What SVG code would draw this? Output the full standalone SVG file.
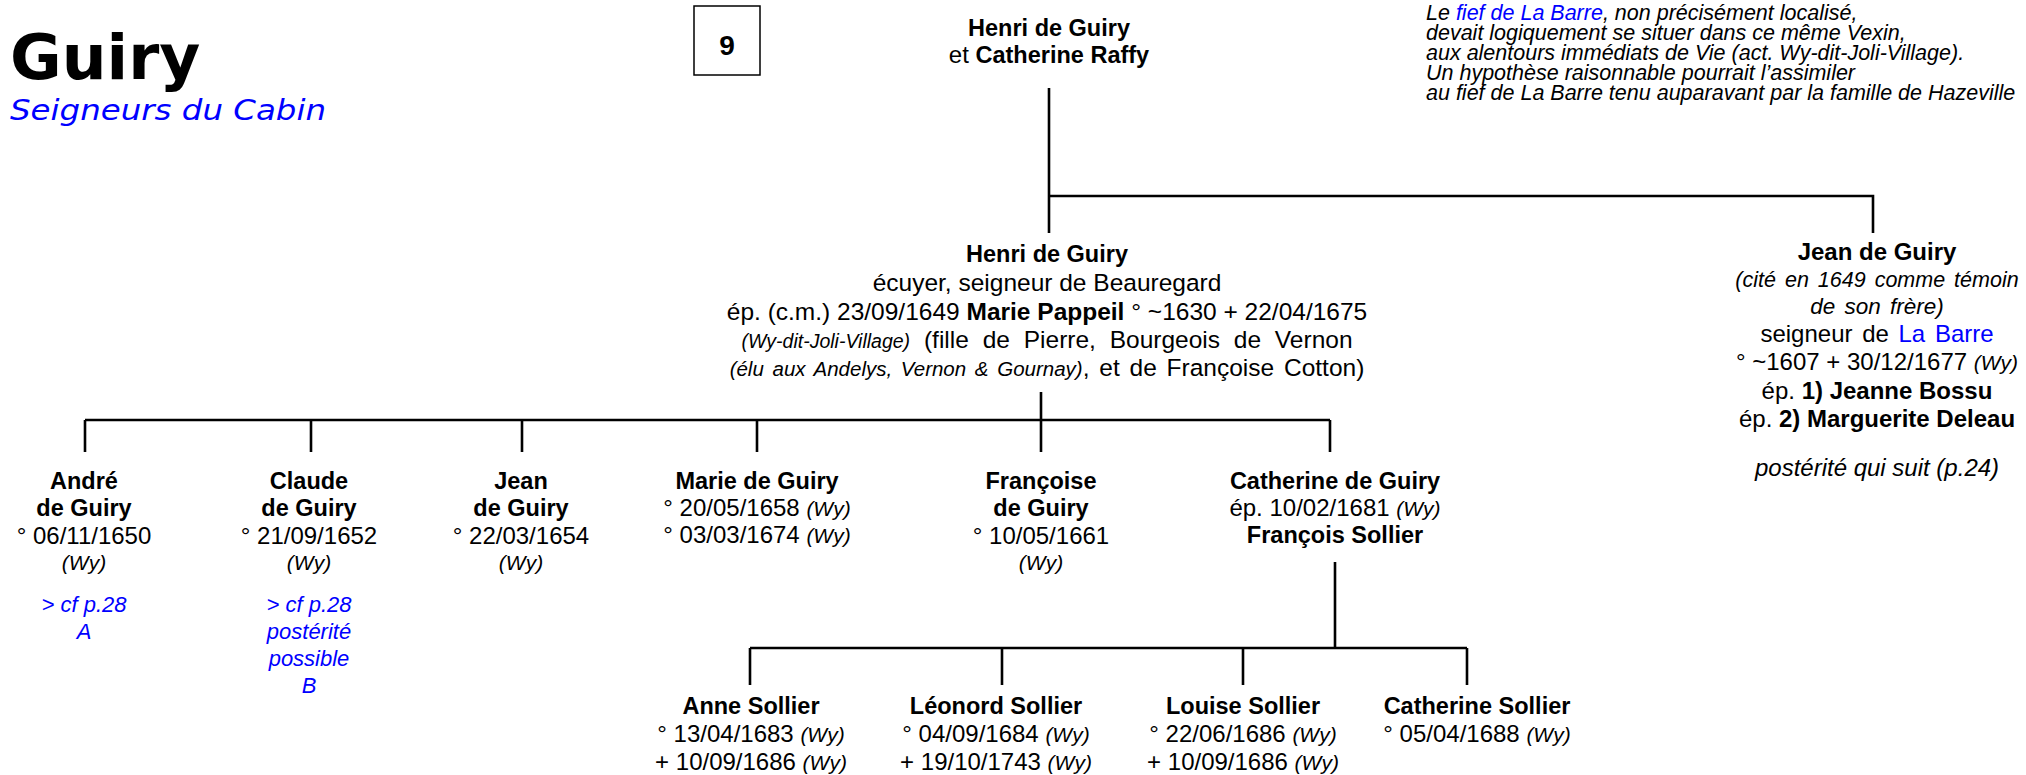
<svg xmlns="http://www.w3.org/2000/svg" width="2026" height="775" viewBox="0 0 2026 775">
<style>
text{font-family:"Liberation Sans",Arial,sans-serif;fill:#000;}
.t{font-size:24px;text-anchor:middle;}
.b{font-weight:bold;font-size:23.5px;}
.i{font-style:italic;font-size:21px;}
.blue{fill:#0000FF;}
.note{font-size:21.5px;font-style:italic;}
.bl{font-size:22px;font-style:italic;fill:#0000FF;text-anchor:middle;}
.ln{stroke:#000;stroke-width:2.6;fill:none;}
</style>
<rect width="2026" height="775" fill="#fff"/>
<g id="title">
<text x="10" y="79" style="font-family:'DejaVu Sans',Verdana,sans-serif;font-weight:bold;font-size:63px">Guiry</text>
<text x="10" y="120" style="font-family:'DejaVu Sans',Verdana,sans-serif;font-style:italic;font-size:29px;fill:#0000FF" textLength="316" lengthAdjust="spacingAndGlyphs">Seigneurs du Cabin</text>
</g>
<g id="page">
<rect x="694" y="6" width="66" height="69" fill="#fff" stroke="#000" stroke-width="1.5"/>
<text x="727" y="55" style="font-size:28px;font-weight:bold;text-anchor:middle">9</text>
</g>
<g id="note">
<text x="1426" y="20" class="note">Le <tspan class="blue">fief de La Barre</tspan>, non précisément localisé,</text>
<text x="1426" y="40" class="note">devait logiquement se situer dans ce même Vexin,</text>
<text x="1426" y="60" class="note">aux alentours immédiats de Vie (act. Wy-dit-Joli-Village).</text>
<text x="1426" y="80" class="note">Un hypothèse raisonnable pourrait l’assimiler</text>
<text x="1426" y="100" class="note">au fief de La Barre tenu auparavant par la famille de Hazeville</text>
</g>
<g id="connectors">
<path class="ln" d="M1049 88V233M1049 196H1873V233"/>
<path class="ln" d="M1041 392V420M85 420H1330M85 420V452M311 420V452M522 420V452M757 420V452M1041 420V452M1330 420V452"/>
<path class="ln" d="M1335 562V648M750 648H1467M750 648V685M1002 648V685M1243 648V685M1467 648V685"/>
</g>
<g id="henri-catherine">
<text x="1049" y="36" class="t b">Henri de Guiry</text>
<text x="1049" y="63" class="t">et <tspan class="b">Catherine Raffy</tspan></text>
</g>
<g id="henri">
<text x="1047" y="262" class="t b">Henri de Guiry</text>
<text x="1047" y="291" class="t" style="font-size:24.5px">écuyer, seigneur de Beauregard</text>
<text x="1047" y="320" class="t" style="font-size:24.5px">ép. (c.m.) 23/09/1649 <tspan class="b" style="font-size:24.5px">Marie Pappeil</tspan> ° ~1630 + 22/04/1675</text>
<text x="1047" y="348" class="t" style="font-size:24.5px;word-spacing:7px"><tspan class="i" style="font-size:19.5px;word-spacing:0">(Wy-dit-Joli-Village)</tspan> (fille de Pierre, Bourgeois de Vernon</text>
<text x="1047" y="376" class="t" style="font-size:24.5px;word-spacing:3px"><tspan class="i" style="font-size:20.5px">(élu aux Andelys, Vernon &amp; Gournay)</tspan>, et de Françoise Cotton)</text>
</g>
<g id="jean-barre">
<text x="1877" y="260" class="t b" style="font-size:24px">Jean de Guiry</text>
<text x="1877" y="287" class="t i" style="font-size:21.5px;word-spacing:3px">(cité en 1649 comme témoin</text>
<text x="1877" y="314" class="t i" style="font-size:22.5px;word-spacing:3px">de son frère)</text>
<text x="1877" y="342" class="t" style="font-size:24px;word-spacing:3px">seigneur de <tspan class="blue">La Barre</tspan></text>
<text x="1877" y="370" class="t" style="font-size:24px">° ~1607 + 30/12/1677 <tspan class="i">(Wy)</tspan></text>
<text x="1877" y="399" class="t" style="font-size:24px">ép. <tspan class="b" style="font-size:24px">1) Jeanne Bossu</tspan></text>
<text x="1877" y="427" class="t" style="font-size:24px">ép. <tspan class="b" style="font-size:24px">2) Marguerite Deleau</tspan></text>
<text x="1877" y="476" class="t i" style="font-size:24px">postérité qui suit (p.24)</text>
</g>
<g id="andre">
<text x="84" y="489" class="t b">André</text>
<text x="84" y="516" class="t b">de Guiry</text>
<text x="84" y="544" class="t">°  06/11/1650</text>
<text x="84" y="570" class="t i">(Wy)</text>
<text x="84" y="612" class="bl">&gt; cf p.28</text>
<text x="84" y="639" class="bl">A</text>
</g>
<g id="claude">
<text x="309" y="489" class="t b">Claude</text>
<text x="309" y="516" class="t b">de Guiry</text>
<text x="309" y="544" class="t">°  21/09/1652</text>
<text x="309" y="570" class="t i">(Wy)</text>
<text x="309" y="612" class="bl">&gt; cf p.28</text>
<text x="309" y="639" class="bl">postérité</text>
<text x="309" y="666" class="bl">possible</text>
<text x="309" y="693" class="bl">B</text>
</g>
<g id="jean">
<text x="521" y="489" class="t b">Jean</text>
<text x="521" y="516" class="t b">de Guiry</text>
<text x="521" y="544" class="t">°  22/03/1654</text>
<text x="521" y="570" class="t i">(Wy)</text>
</g>
<g id="marie">
<text x="757" y="489" class="t b">Marie de Guiry</text>
<text x="757" y="516" class="t">° 20/05/1658  <tspan class="i">(Wy)</tspan></text>
<text x="757" y="543" class="t">° 03/03/1674  <tspan class="i">(Wy)</tspan></text>
</g>
<g id="francoise">
<text x="1041" y="489" class="t b">Françoise</text>
<text x="1041" y="516" class="t b">de Guiry</text>
<text x="1041" y="544" class="t">°  10/05/1661</text>
<text x="1041" y="570" class="t i">(Wy)</text>
</g>
<g id="catherine">
<text x="1335" y="489" class="t b">Catherine de Guiry</text>
<text x="1335" y="516" class="t">ép. 10/02/1681 <tspan class="i">(Wy)</tspan></text>
<text x="1335" y="543" class="t b">François Sollier</text>
</g>
<g id="anne">
<text x="751" y="714" class="t b">Anne Sollier</text>
<text x="751" y="742" class="t">°  13/04/1683  <tspan class="i">(Wy)</tspan></text>
<text x="751" y="770" class="t">+  10/09/1686  <tspan class="i">(Wy)</tspan></text>
</g>
<g id="leonord">
<text x="996" y="714" class="t b">Léonord Sollier</text>
<text x="996" y="742" class="t">°  04/09/1684  <tspan class="i">(Wy)</tspan></text>
<text x="996" y="770" class="t">+  19/10/1743  <tspan class="i">(Wy)</tspan></text>
</g>
<g id="louise">
<text x="1243" y="714" class="t b">Louise Sollier</text>
<text x="1243" y="742" class="t">°  22/06/1686 <tspan class="i">(Wy)</tspan></text>
<text x="1243" y="770" class="t">+  10/09/1686 <tspan class="i">(Wy)</tspan></text>
</g>
<g id="catherine-sollier">
<text x="1477" y="714" class="t b">Catherine Sollier</text>
<text x="1477" y="742" class="t">°  05/04/1688 <tspan class="i">(Wy)</tspan></text>
</g>
</svg>
